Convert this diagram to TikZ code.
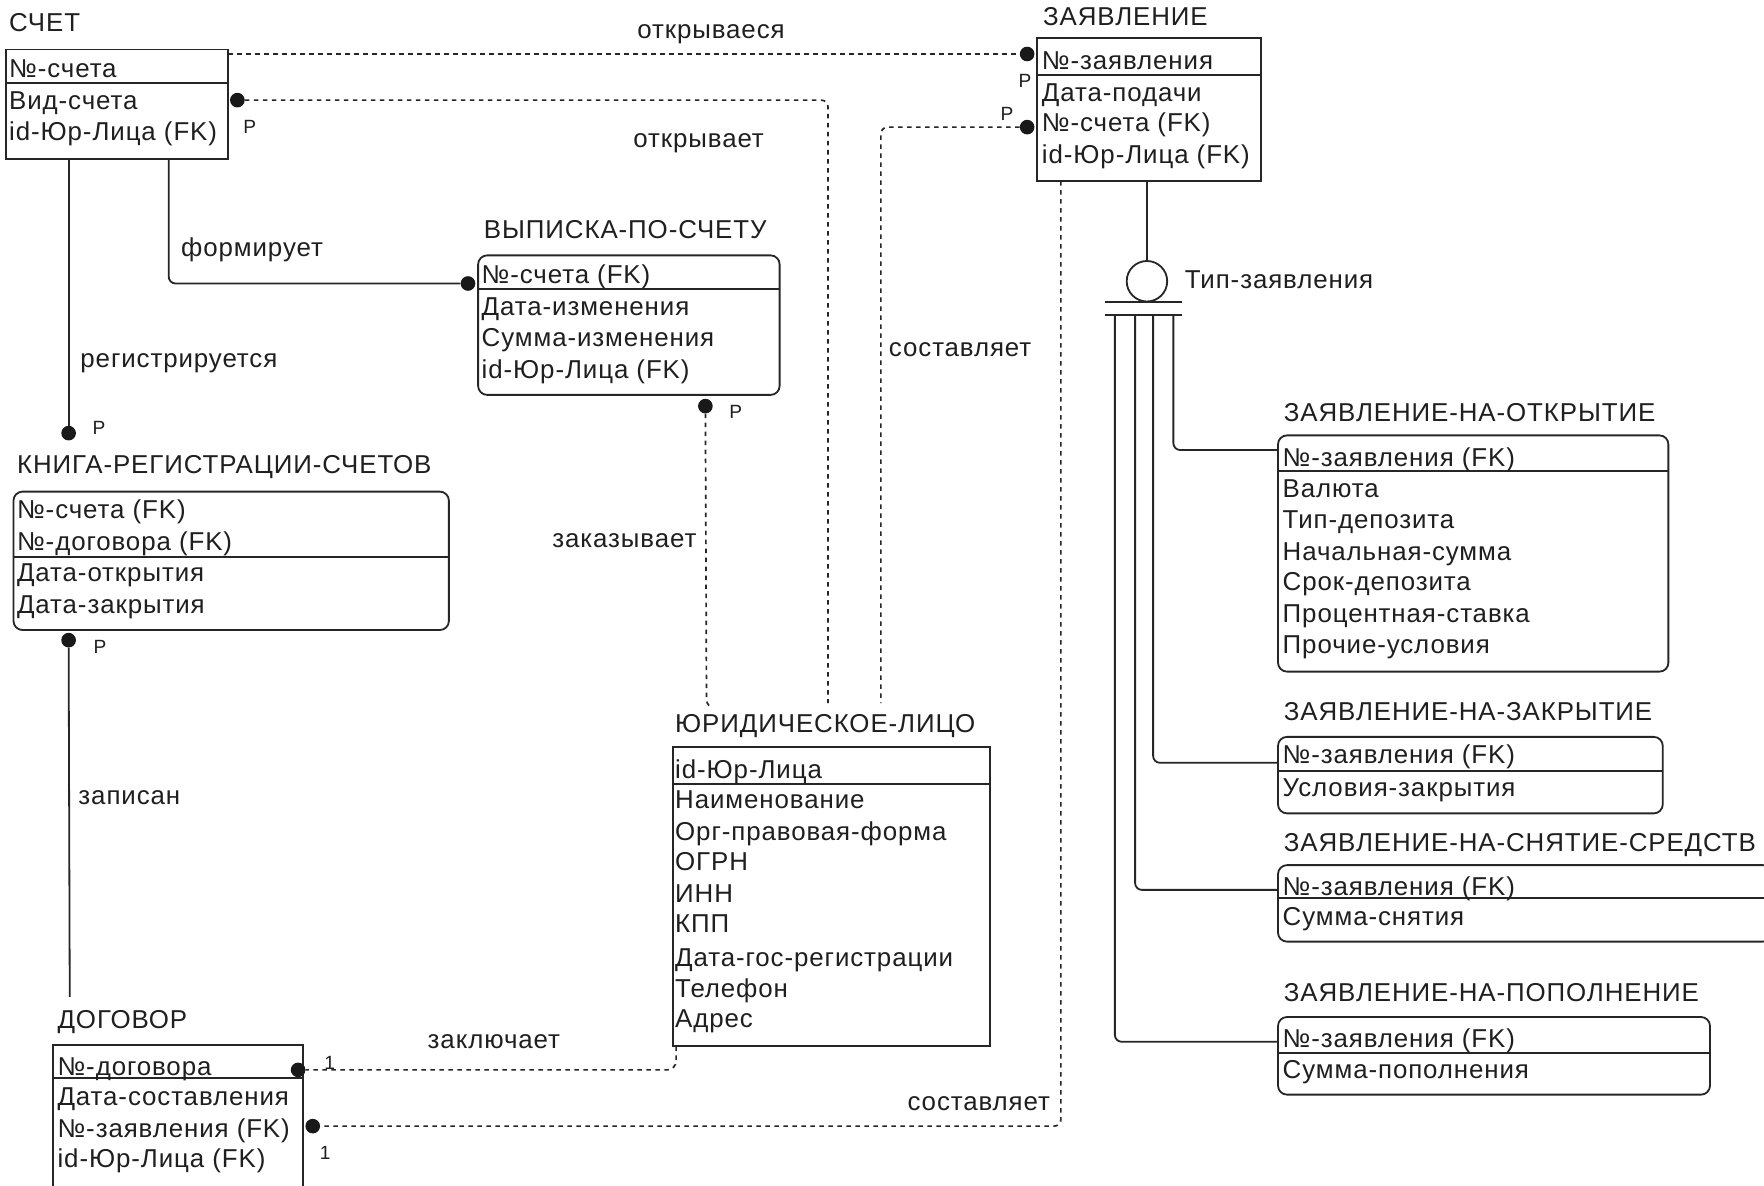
\documentclass[tikz,border=0pt]{standalone}
\usepackage{fontspec}
\setmainfont[LetterSpace=3.5]{Liberation Sans}
\newcommand\fsz{\fontsize{23}{27}\selectfont}
\newcommand\fsm{\fontsize{17}{20}\selectfont}
\newcommand\erbox[7]{%
  \node[#2, minimum width={(#5-#3)*1pt}, minimum height={(#6-#4)*1pt}] (#1) at ({(#3+#5)/2},{(#4+#6)/2}) {};
  \draw[ln] (#3,#7) -- (#5,#7);}
\newcommand\erow[4]{\node[attr] (#1) at (#2,#3) {#4};}
\begin{document}
\begin{tikzpicture}[x=1pt,y=-1pt,
  ln/.style={draw=black!85, line width=1.6pt},
  dl/.style={draw=black!85, line width=1.5pt, dash pattern=on 4pt off 4pt},
  sqbox/.style={draw=black!85, line width=1.6pt, inner sep=0pt, outer sep=0pt},
  rdbox/.style={sqbox, rounded corners=8pt},
  attr/.style={anchor=west, inner sep=0pt, font=\fsz, text=black!88, text height=18pt, text depth=2pt},
  lbl/.style={inner sep=0pt, font=\fsz, text=black!88},
  sm/.style={inner sep=0pt, font=\fsm, text=black!88},
  dot/.style={circle, fill=black!90, inner sep=0pt, minimum size=13pt}]
\fill[white] (0,0) rectangle (1568,1054);
\useasboundingbox (0,0) rectangle (1568,1054);

% ---------- СЧЕТ
\erow{tSchet}{8}{20}{СЧЕТ}
\erbox{schet}{sqbox}{5}{44}{203}{141}{74}
\erow{s1}{8}{61}{№-счета}
\erow{s2}{8}{89}{Вид-счета}
\erow{s3}{8}{117}{id-Юр-Лица (FK)}

% ---------- ЗАЯВЛЕНИЕ
\erow{tZayav}{927}{15}{ЗАЯВЛЕНИЕ}
\erbox{zayav}{sqbox}{922}{34}{1121}{161}{67}
\erow{z1}{926}{54}{№-заявления}
\erow{z2}{926}{82}{Дата-подачи}
\erow{z3}{926}{109}{№-счета (FK)}
\erow{z4}{926}{137}{id-Юр-Лица (FK)}

% ---------- ВЫПИСКА-ПО-СЧЕТУ
\erow{tVyp}{430}{204}{ВЫПИСКА-ПО-СЧЕТУ}
\erbox{vyp}{rdbox}{425}{227}{693}{351}{257}
\erow{v1}{428}{244}{№-счета (FK)}
\erow{v2}{428}{272}{Дата-изменения}
\erow{v3}{428}{300}{Сумма-изменения}
\erow{v4}{428}{328}{id-Юр-Лица (FK)}

% ---------- КНИГА-РЕГИСТРАЦИИ-СЧЕТОВ
\erow{tKniga}{15}{413}{КНИГА-РЕГИСТРАЦИИ-СЧЕТОВ}
\erbox{kniga}{rdbox}{12}{437}{399}{560}{495}
\erow{k1}{15}{453}{№-счета (FK)}
\erow{k2}{15}{481}{№-договора (FK)}
\erow{k3}{15}{509}{Дата-открытия}
\erow{k4}{15}{537}{Дата-закрытия}

% ---------- ЮРИДИЧЕСКОЕ-ЛИЦО
\erow{tUl}{600}{643}{ЮРИДИЧЕСКОЕ-ЛИЦО}
\erbox{ul}{sqbox}{598}{664}{880}{930}{697}
\erow{u1}{600}{684}{id-Юр-Лица}
\erow{u2}{600}{711}{Наименование}
\erow{u3}{600}{739}{Орг-правовая-форма}
\erow{u4}{600}{766}{ОГРН}
\erow{u5}{600}{794}{ИНН}
\erow{u6}{600}{821}{КПП}
\erow{u7}{600}{851}{Дата-гос-регистрации}
\erow{u8}{600}{879}{Телефон}
\erow{u9}{600}{905}{Адрес}

% ---------- ДОГОВОР
\erow{tDog}{51}{906}{ДОГОВОР}
\erbox{dog}{sqbox}{47}{929}{269}{1060}{958}
\erow{g1}{51}{948}{№-договора}
\erow{g2}{51}{975}{Дата-составления}
\erow{g3}{51}{1003}{№-заявления (FK)}
\erow{g4}{51}{1030}{id-Юр-Лица (FK)}

% ---------- ЗАЯВЛЕНИЕ-НА-ОТКРЫТИЕ
\erow{tZo}{1141}{367}{ЗАЯВЛЕНИЕ-НА-ОТКРЫТИЕ}
\erbox{zo}{rdbox}{1136}{387}{1483}{597}{419}
\erow{o1}{1140}{407}{№-заявления (FK)}
\erow{o2}{1140}{434}{Валюта}
\erow{o3}{1140}{462}{Тип-депозита}
\erow{o4}{1140}{490}{Начальная-сумма}
\erow{o5}{1140}{517}{Срок-депозита}
\erow{o6}{1140}{545}{Процентная-ставка}
\erow{o7}{1140}{573}{Прочие-условия}

% ---------- ЗАЯВЛЕНИЕ-НА-ЗАКРЫТИЕ
\erow{tZz}{1141}{632}{ЗАЯВЛЕНИЕ-НА-ЗАКРЫТИЕ}
\erbox{zz}{rdbox}{1136}{655}{1478}{723}{685}
\erow{c1}{1140}{671}{№-заявления (FK)}
\erow{c2}{1140}{700}{Условия-закрытия}

% ---------- ЗАЯВЛЕНИЕ-НА-СНЯТИЕ-СРЕДСТВ
\erow{tZs}{1141}{749}{ЗАЯВЛЕНИЕ-НА-СНЯТИЕ-СРЕДСТВ}
\erbox{zs}{rdbox}{1136}{769}{1575}{837}{798}
\erow{w1}{1140}{788}{№-заявления (FK)}
\erow{w2}{1140}{815}{Сумма-снятия}

% ---------- ЗАЯВЛЕНИЕ-НА-ПОПОЛНЕНИЕ
\erow{tZp}{1141}{882}{ЗАЯВЛЕНИЕ-НА-ПОПОЛНЕНИЕ}
\erbox{zp}{rdbox}{1136}{904}{1520}{973}{936}
\erow{p1}{1140}{923}{№-заявления (FK)}
\erow{p2}{1140}{951}{Сумма-пополнения}

% ---------- relationship end points
\node[dot] (dOtkr) at (913,48) {};
\node[dot] (dOtkv) at (211,89) {};
\node[dot] (dSost) at (913,113) {};
\node[dot] (dForm) at (416,252) {};
\node[dot] (dReg) at (61,385) {};
\node[dot] (dZap) at (61,569) {};
\node[dot] (dZak) at (627,361) {};
\node[dot] (dZakl) at (265,951) {};
\node[dot] (dSost2) at (278,1001) {};

\coordinate (ulA) at (628,625);
\coordinate (ulB) at (736,625);
\coordinate (ulC) at (783,625);
\coordinate (dogTop) at (62,886);

% открываеся
\draw[dl] (schet.east |- dOtkr) -- (dOtkr);
\node[lbl] (lOtkr) at (632,30) {открываеся};
\node[sm] (pOtkr) at (911,72) {P};
% открывает
\draw[dl, rounded corners=6pt] (dOtkv) -- (736,89) -- (ulB);
\node[lbl] (lOtkv) at (621,127) {открывает};
\node[sm] (pOtkv) at (222,113) {P};
% составляет (верх)
\draw[dl, rounded corners=6pt] (dSost) -- (783,113) -- (ulC);
\node[lbl, anchor=west] (lSost) at (790,311) {составляет};
\node[sm] (pSost) at (895,101) {P};
% формирует
\draw[ln, rounded corners=6pt] (schet.south -| 150,0) -- (150,252) -- (dForm);
\node[lbl] (lForm) at (224,222) {формирует};
% регистрируется
\draw[ln] (schet.south -| dReg) -- (dReg);
\node[lbl] (lReg) at (159,323) {регистрируется};
\node[sm] (pReg) at (88,380) {P};
% записан
\draw[ln] (dZap) -- (dogTop);
\node[lbl] (lZap) at (115,709) {записан};
\node[sm] (pZap) at (89,575) {P};
% заказывает
\draw[dl, rounded corners=3pt] (dZak) -- (ulA) -- (632,629);
\node[lbl] (lZak) at (555,481) {заказывает};
\node[sm] (pZak) at (654,366) {P};
% заключает
\draw[dl, rounded corners=8pt] (ul.south west -| 601,0) -- (601,951) -- (dZakl);
\node[lbl] (lZakl) at (439,926) {заключает};
\node[sm] (nZakl) at (293,945) {1};
% составляет (низ)
\draw[dl, rounded corners=6pt] (zayav.south -| 943,0) -- (943,1001) -- (dSost2);
\node[lbl] (lSost2) at (870,981) {составляет};
\node[sm] (nSost2) at (289,1025) {1};

% ---------- категория
\node[circle, draw=black!85, line width=1.6pt, minimum size=36pt, inner sep=0pt] (cat) at (1019.5,250) {};
\draw[ln] (zayav.south -| cat) -- (cat);
\coordinate (cL1) at (982,268.5);
\coordinate (cR1) at (1051,268.5);
\coordinate (cL2) at (982,280);
\coordinate (cR2) at (1051,280);
\draw[ln] (cL1) -- (cR1);
\draw[ln] (cL2) -- (cR2);
\node[lbl, anchor=west] (lCat) at (1053,249) {Тип-заявления};
\draw[ln, rounded corners=6pt] (1043,280) -- (1043,400) -- (zo.west |- 0,400);
\draw[ln, rounded corners=6pt] (1025,280) -- (1025,678) -- (zz.west |- 0,678);
\draw[ln, rounded corners=6pt] (1009,280) -- (1009,791) -- (zs.west |- 0,791);
\draw[ln, rounded corners=6pt] (991,280) -- (991,926) -- (zp.west |- 0,926);
\end{tikzpicture}
\end{document}
